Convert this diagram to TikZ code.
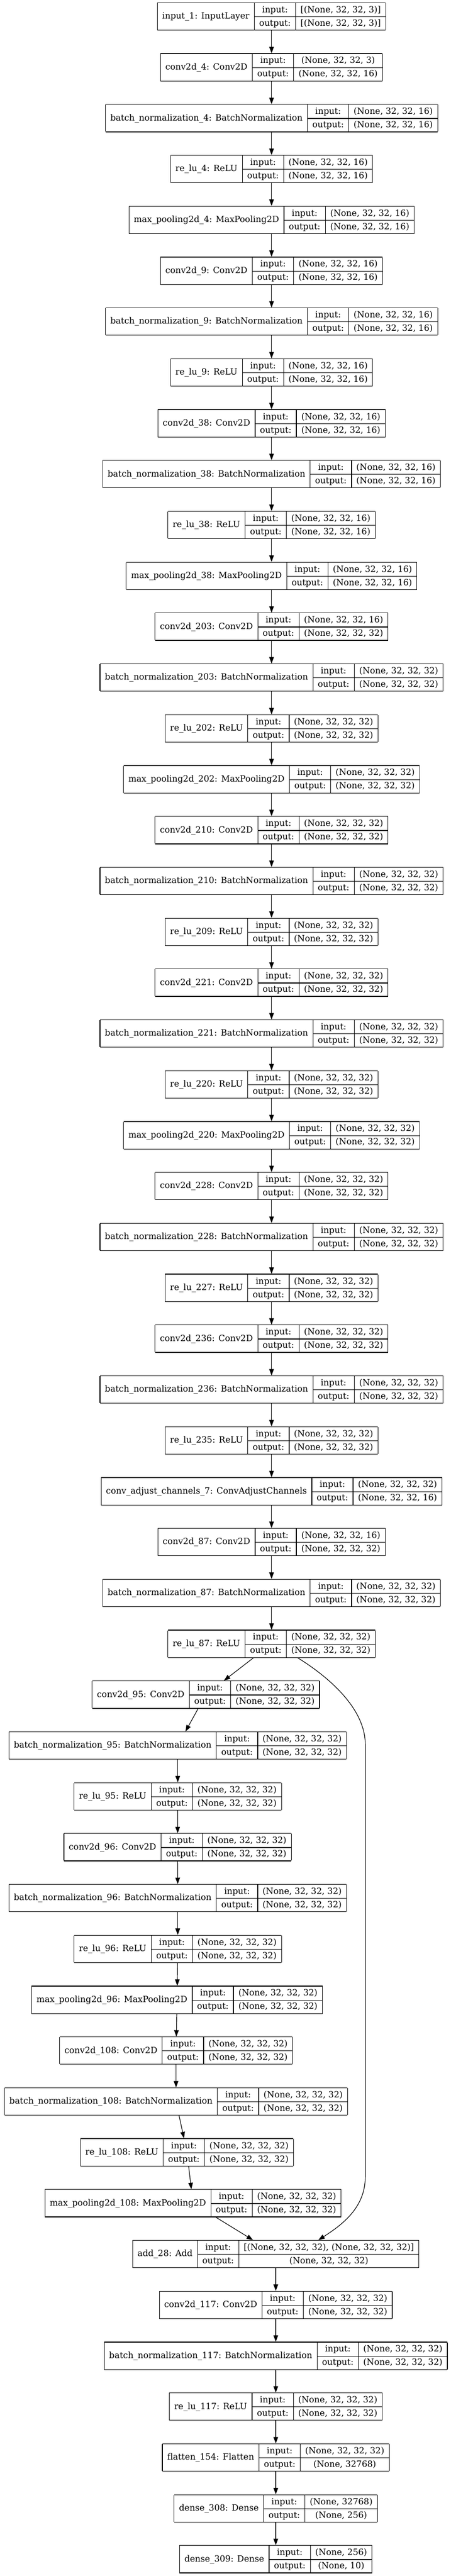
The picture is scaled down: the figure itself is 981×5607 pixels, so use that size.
\documentclass[tikz,border=0pt]{standalone}
\usepackage{fontspec}
\setmainfont{DejaVu Serif}
\usepackage{tikz}
\usetikzlibrary{arrows.meta}

\setlength{\tabcolsep}{8pt}
\setlength{\arrayrulewidth}{1pt}
\renewcommand{\arraystretch}{0}
\newcommand{\rowstrut}{\rule[-6.44pt]{0pt}{21.875pt}}
% one keras record: name | input:/output: | shapes
\newcommand{\layerbox}[3]{%
  \begin{tabular}{|c|c|c|}\hline
    \rowstrut & input: & #2\\\cline{2-3}
    \raisebox{11.44pt}[0pt][0pt]{#1}\rowstrut & output: & #3\\\hline
  \end{tabular}}

\tikzset{
  layer/.style={inner sep=0pt,outer sep=0pt,font=\fontsize{14pt}{16pt}\selectfont},
  flow/.style={-{Triangle[length=10.5pt,width=7.5pt]},line width=1pt}
}

\begin{document}
\begin{tikzpicture}[x=0.75pt,y=-0.75pt]
  \useasboundingbox (0,0) rectangle (981,5607);

  % main column
  \node[layer] (input1) at (590.8,35.8) {\layerbox{input\_1: InputLayer}{[(None, 32, 32, 3)]}{[(None, 32, 32, 3)]}};
  \node[layer] (conv4) at (590.8,146.5) {\layerbox{conv2d\_4: Conv2D}{(None, 32, 32, 3)}{(None, 32, 32, 16)}};
  \node[layer] (bn4) at (590.8,257.2) {\layerbox{batch\_normalization\_4: BatchNormalization}{(None, 32, 32, 16)}{(None, 32, 32, 16)}};
  \node[layer] (relu4) at (590.8,367.9) {\layerbox{re\_lu\_4: ReLU}{(None, 32, 32, 16)}{(None, 32, 32, 16)}};
  \node[layer] (pool4) at (590.8,478.6) {\layerbox{max\_pooling2d\_4: MaxPooling2D}{(None, 32, 32, 16)}{(None, 32, 32, 16)}};
  \node[layer] (conv9) at (590.8,589.3) {\layerbox{conv2d\_9: Conv2D}{(None, 32, 32, 16)}{(None, 32, 32, 16)}};
  \node[layer] (bn9) at (590.8,700.0) {\layerbox{batch\_normalization\_9: BatchNormalization}{(None, 32, 32, 16)}{(None, 32, 32, 16)}};
  \node[layer] (relu9) at (590.8,810.7) {\layerbox{re\_lu\_9: ReLU}{(None, 32, 32, 16)}{(None, 32, 32, 16)}};
  \node[layer] (conv38) at (590.8,921.4) {\layerbox{conv2d\_38: Conv2D}{(None, 32, 32, 16)}{(None, 32, 32, 16)}};
  \node[layer] (bn38) at (590.8,1032.0) {\layerbox{batch\_normalization\_38: BatchNormalization}{(None, 32, 32, 16)}{(None, 32, 32, 16)}};
  \node[layer] (relu38) at (590.8,1142.7) {\layerbox{re\_lu\_38: ReLU}{(None, 32, 32, 16)}{(None, 32, 32, 16)}};
  \node[layer] (pool38) at (590.8,1253.4) {\layerbox{max\_pooling2d\_38: MaxPooling2D}{(None, 32, 32, 16)}{(None, 32, 32, 16)}};
  \node[layer] (conv203) at (590.8,1364.1) {\layerbox{conv2d\_203: Conv2D}{(None, 32, 32, 16)}{(None, 32, 32, 32)}};
  \node[layer] (bn203) at (590.8,1474.8) {\layerbox{batch\_normalization\_203: BatchNormalization}{(None, 32, 32, 32)}{(None, 32, 32, 32)}};
  \node[layer] (relu202) at (590.8,1585.5) {\layerbox{re\_lu\_202: ReLU}{(None, 32, 32, 32)}{(None, 32, 32, 32)}};
  \node[layer] (pool202) at (590.8,1696.2) {\layerbox{max\_pooling2d\_202: MaxPooling2D}{(None, 32, 32, 32)}{(None, 32, 32, 32)}};
  \node[layer] (conv210) at (590.8,1806.9) {\layerbox{conv2d\_210: Conv2D}{(None, 32, 32, 32)}{(None, 32, 32, 32)}};
  \node[layer] (bn210) at (590.8,1917.6) {\layerbox{batch\_normalization\_210: BatchNormalization}{(None, 32, 32, 32)}{(None, 32, 32, 32)}};
  \node[layer] (relu209) at (590.8,2028.3) {\layerbox{re\_lu\_209: ReLU}{(None, 32, 32, 32)}{(None, 32, 32, 32)}};
  \node[layer] (conv221) at (590.8,2139.0) {\layerbox{conv2d\_221: Conv2D}{(None, 32, 32, 32)}{(None, 32, 32, 32)}};
  \node[layer] (bn221) at (590.8,2249.6) {\layerbox{batch\_normalization\_221: BatchNormalization}{(None, 32, 32, 32)}{(None, 32, 32, 32)}};
  \node[layer] (relu220) at (590.8,2360.3) {\layerbox{re\_lu\_220: ReLU}{(None, 32, 32, 32)}{(None, 32, 32, 32)}};
  \node[layer] (pool220) at (590.8,2471.0) {\layerbox{max\_pooling2d\_220: MaxPooling2D}{(None, 32, 32, 32)}{(None, 32, 32, 32)}};
  \node[layer] (conv228) at (590.8,2581.7) {\layerbox{conv2d\_228: Conv2D}{(None, 32, 32, 32)}{(None, 32, 32, 32)}};
  \node[layer] (bn228) at (590.8,2692.4) {\layerbox{batch\_normalization\_228: BatchNormalization}{(None, 32, 32, 32)}{(None, 32, 32, 32)}};
  \node[layer] (relu227) at (590.8,2803.1) {\layerbox{re\_lu\_227: ReLU}{(None, 32, 32, 32)}{(None, 32, 32, 32)}};
  \node[layer] (conv236) at (590.8,2913.8) {\layerbox{conv2d\_236: Conv2D}{(None, 32, 32, 32)}{(None, 32, 32, 32)}};
  \node[layer] (bn236) at (590.8,3024.5) {\layerbox{batch\_normalization\_236: BatchNormalization}{(None, 32, 32, 32)}{(None, 32, 32, 32)}};
  \node[layer] (relu235) at (590.8,3135.2) {\layerbox{re\_lu\_235: ReLU}{(None, 32, 32, 32)}{(None, 32, 32, 32)}};
  \node[layer] (adjust7) at (590.8,3245.9) {\layerbox{conv\_adjust\_channels\_7: ConvAdjustChannels}{(None, 32, 32, 32)}{(None, 32, 32, 16)}};
  \node[layer] (conv87) at (590.8,3356.5) {\layerbox{conv2d\_87: Conv2D}{(None, 32, 32, 16)}{(None, 32, 32, 32)}};
  \node[layer] (bn87) at (590.8,3467.2) {\layerbox{batch\_normalization\_87: BatchNormalization}{(None, 32, 32, 32)}{(None, 32, 32, 32)}};
  \node[layer] (relu87) at (590.8,3577.9) {\layerbox{re\_lu\_87: ReLU}{(None, 32, 32, 32)}{(None, 32, 32, 32)}};

  % branch
  \node[layer] (conv95) at (447.8,3688.6) {\layerbox{conv2d\_95: Conv2D}{(None, 32, 32, 32)}{(None, 32, 32, 32)}};
  \node[layer] (bn95) at (386.7,3799.3) {\layerbox{batch\_normalization\_95: BatchNormalization}{(None, 32, 32, 32)}{(None, 32, 32, 32)}};
  \node[layer] (relu95) at (386.7,3910.0) {\layerbox{re\_lu\_95: ReLU}{(None, 32, 32, 32)}{(None, 32, 32, 32)}};
  \node[layer] (conv96) at (386.4,4020.7) {\layerbox{conv2d\_96: Conv2D}{(None, 32, 32, 32)}{(None, 32, 32, 32)}};
  \node[layer] (bn96) at (386.7,4131.4) {\layerbox{batch\_normalization\_96: BatchNormalization}{(None, 32, 32, 32)}{(None, 32, 32, 32)}};
  \node[layer] (relu96) at (386.7,4242.1) {\layerbox{re\_lu\_96: ReLU}{(None, 32, 32, 32)}{(None, 32, 32, 32)}};
  \node[layer] (pool96) at (385.2,4352.8) {\layerbox{max\_pooling2d\_96: MaxPooling2D}{(None, 32, 32, 32)}{(None, 32, 32, 32)}};
  \node[layer] (conv108) at (383.0,4463.4) {\layerbox{conv2d\_108: Conv2D}{(None, 32, 32, 32)}{(None, 32, 32, 32)}};
  \node[layer] (bn108) at (383.0,4574.1) {\layerbox{batch\_normalization\_108: BatchNormalization}{(None, 32, 32, 32)}{(None, 32, 32, 32)}};
  \node[layer] (relu108) at (406.8,4684.8) {\layerbox{re\_lu\_108: ReLU}{(None, 32, 32, 32)}{(None, 32, 32, 32)}};
  \node[layer] (pool108) at (419.9,4795.5) {\layerbox{max\_pooling2d\_108: MaxPooling2D}{(None, 32, 32, 32)}{(None, 32, 32, 32)}};

  % after the merge
  \node[layer] (add28) at (600,4906.2) {\layerbox{add\_28: Add}{[(None, 32, 32, 32), (None, 32, 32, 32)]}{(None, 32, 32, 32)}};
  \node[layer] (conv117) at (600,5016.9) {\layerbox{conv2d\_117: Conv2D}{(None, 32, 32, 32)}{(None, 32, 32, 32)}};
  \node[layer] (bn117) at (600,5127.6) {\layerbox{batch\_normalization\_117: BatchNormalization}{(None, 32, 32, 32)}{(None, 32, 32, 32)}};
  \node[layer] (relu117) at (600,5238.3) {\layerbox{re\_lu\_117: ReLU}{(None, 32, 32, 32)}{(None, 32, 32, 32)}};
  \node[layer] (flatten154) at (600,5349.0) {\layerbox{flatten\_154: Flatten}{(None, 32, 32, 32)}{(None, 32768)}};
  \node[layer] (dense308) at (600,5459.7) {\layerbox{dense\_308: Dense}{(None, 32768)}{(None, 256)}};
  \node[layer] (dense309) at (600,5570.3) {\layerbox{dense\_309: Dense}{(None, 256)}{(None, 10)}};

  \draw[flow] (input1) -- (conv4);
  \draw[flow] (conv4) -- (bn4);
  \draw[flow] (bn4) -- (relu4);
  \draw[flow] (relu4) -- (pool4);
  \draw[flow] (pool4) -- (conv9);
  \draw[flow] (conv9) -- (bn9);
  \draw[flow] (bn9) -- (relu9);
  \draw[flow] (relu9) -- (conv38);
  \draw[flow] (conv38) -- (bn38);
  \draw[flow] (bn38) -- (relu38);
  \draw[flow] (relu38) -- (pool38);
  \draw[flow] (pool38) -- (conv203);
  \draw[flow] (conv203) -- (bn203);
  \draw[flow] (bn203) -- (relu202);
  \draw[flow] (relu202) -- (pool202);
  \draw[flow] (pool202) -- (conv210);
  \draw[flow] (conv210) -- (bn210);
  \draw[flow] (bn210) -- (relu209);
  \draw[flow] (relu209) -- (conv221);
  \draw[flow] (conv221) -- (bn221);
  \draw[flow] (bn221) -- (relu220);
  \draw[flow] (relu220) -- (pool220);
  \draw[flow] (pool220) -- (conv228);
  \draw[flow] (conv228) -- (bn228);
  \draw[flow] (bn228) -- (relu227);
  \draw[flow] (relu227) -- (conv236);
  \draw[flow] (conv236) -- (bn236);
  \draw[flow] (bn236) -- (relu235);
  \draw[flow] (relu235) -- (adjust7);
  \draw[flow] (adjust7) -- (conv87);
  \draw[flow] (conv87) -- (bn87);
  \draw[flow] (bn87) -- (relu87);
  \draw[flow] (relu87) -- (conv95);
  \draw[flow] (conv95) -- (bn95);
  \draw[flow] (bn95) -- (relu95);
  \draw[flow] (relu95) -- (conv96);
  \draw[flow] (conv96) -- (bn96);
  \draw[flow] (bn96) -- (relu96);
  \draw[flow] (relu96) -- (pool96);
  \draw[flow] (pool96) -- (conv108);
  \draw[flow] (conv108) -- (bn108);
  \draw[flow] (bn108) -- (relu108);
  \draw[flow] (relu108) -- (pool108);
  \draw[flow] (pool108) -- (add28);
  \draw[flow] (add28) -- (conv117);
  \draw[flow] (conv117) -- (bn117);
  \draw[flow] (bn117) -- (relu117);
  \draw[flow] (relu117) -- (flatten154);
  \draw[flow] (flatten154) -- (dense308);
  \draw[flow] (dense308) -- (dense309);

  % skip connection
  \draw[flow] ([xshift=42.7pt]relu87.south) .. controls (718,3652) and (794.7,3720) .. (794.7,3797)
    -- (794.7,4738) .. controls (794.7,4805) and (745,4842) .. ([xshift=69.5pt]add28.north);
\end{tikzpicture}
\end{document}
